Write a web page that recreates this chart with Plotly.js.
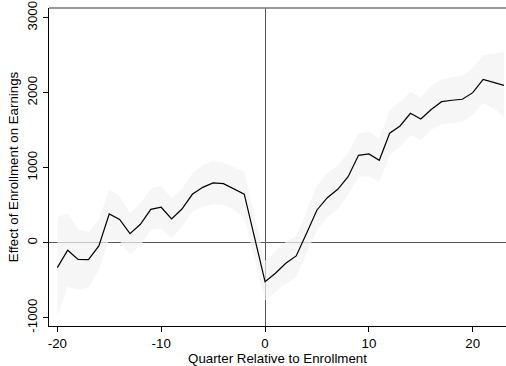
<!DOCTYPE html>
<html>
<head>
<meta charset="utf-8">
<script src="https://cdn.plot.ly/plotly-3.0.1.min.js"></script>
<style>html,body{margin:0;padding:0;background:#fff;}#chart{width:506px;height:366px;}</style>
</head>
<body>
<div id="chart"></div>
<script>
const quarters = [-20,-19,-18,-17,-16,-15,-14,-13,-12,-11,-10,-9,-8,-7,-6,-5,-4,-3,-2,0,1,2,3,4,5,6,7,8,9,10,11,12,13,14,15,16,17,18,19,20,21,22,23];
const effect = [-333,-101,-222,-227,-44,383,311,120,245,445,472,316,449,645,738,796,787,720,647,-520,-408,-275,-177,125,436,600,712,880,1165,1183,1098,1459,1556,1725,1649,1775,1880,1899,1912,2000,2178,2138,2098];
const upper = [338,392,179,147,303,712,623,392,525,725,756,592,712,925,1036,1089,1067,1005,947,-240,-120,13,89,413,760,930,1030,1200,1459,1480,1392,1769,1880,2013,1938,2089,2178,2205,2222,2325,2502,2516,2547];
const lower = [-987,-587,-631,-595,-364,45,23,-155,-40,169,192,58,213,413,480,511,503,445,325,-770,-660,-545,-453,-130,170,340,450,640,880,885,813,1169,1280,1436,1369,1503,1583,1592,1613,1703,1859,1792,1680];
const xTicks = [-20,-10,0,10,20];
const xTickText = ["-20","-10","0","10","20"];
const yTicks = [-1000,0,1000,2000,3000];
const yTickText = ["-1000","0","1000","2000","3000"];

const font = {family: "Liberation Sans, Arial, sans-serif", size: 13.3, color: "#000"};

const bandX = quarters.concat(quarters.slice().reverse());
const bandY = upper.concat(lower.slice().reverse());

const traces = [
  {x: bandX, y: bandY, type: "scatter", mode: "lines", fill: "toself",
   fillcolor: "rgba(242,242,242,0.7)", line: {width: 0, color: "rgba(0,0,0,0)"}, hoverinfo: "skip", showlegend: false},
  {x: quarters, y: effect, type: "scatter", mode: "lines",
   line: {color: "#000", width: 1.2}, showlegend: false}
];

const layout = {
  width: 506, height: 366,
  margin: {l: 49, r: 0, t: 8, b: 40, pad: 0},
  paper_bgcolor: "#fff", plot_bgcolor: "#fff",
  font: font,
  showlegend: false,
  xaxis: {
    range: [-20.8, 23.2], tickvals: xTicks, ticktext: xTickText,
    showgrid: false, zeroline: true, zerolinecolor: "#555", zerolinewidth: 1,
    showline: true, linecolor: "#000", linewidth: 1.3,
    ticks: "outside", ticklen: 5, tickcolor: "#000", tickwidth: 1,
    tickfont: font,
    title: {text: "Quarter Relative to Enrollment", font: font, standoff: 1}
  },
  yaxis: {
    range: [-1111, 3129], tickvals: yTicks, ticktext: yTickText,
    showgrid: false, zeroline: true, zerolinecolor: "#555", zerolinewidth: 1,
    showline: true, linecolor: "#000", linewidth: 1.3,
    ticks: "outside", ticklen: 5, tickcolor: "#000", tickwidth: 1,
    tickangle: -90, tickfont: font,
    title: {text: "Effect of Enrollment on Earnings", font: font, standoff: 3}
  },
  shapes: [
    {type: "line", xref: "paper", yref: "paper", x0: 0, x1: 1, y0: 1, y1: 1,
     line: {color: "#777", width: 1.3}}
  ]
};

Plotly.newPlot("chart", traces, layout, {staticPlot: true, displayModeBar: false});
</script>
</body>
</html>
